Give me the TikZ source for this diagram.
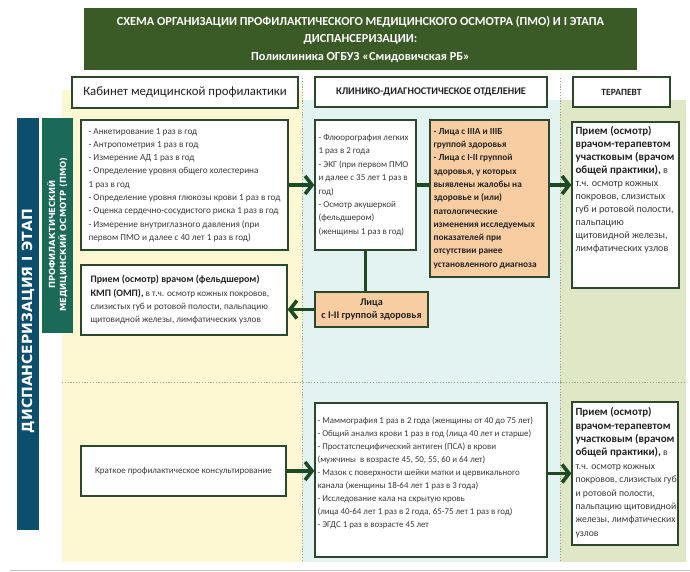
\documentclass[tikz,border=0pt]{standalone}
\usepackage{fontspec}
\setmainfont{Carlito}
\newfontfamily\barfont{DejaVu Sans}
\usetikzlibrary{arrows.meta,calc}
\definecolor{titlegreen}{HTML}{3A5A26}
\definecolor{yellowbg}{HTML}{FEF8D2}
\definecolor{bluebg}{HTML}{E3F3F1}
\definecolor{olivebg}{HTML}{E0E7C6}
\definecolor{barblue}{HTML}{0D4E6C}
\definecolor{barteal}{HTML}{1B6A58}
\definecolor{boxc}{HTML}{2C472C}
\definecolor{orangec}{HTML}{F9CDA2}
\definecolor{arrowc}{HTML}{1C4A22}
\definecolor{dotc}{HTML}{9AAB8C}
\definecolor{textc}{HTML}{3A3A3A}
\definecolor{boldc}{HTML}{222222}
\newcommand{\bx}[2][10]{{\fontsize{#1}{13.3}\selectfont\bfseries\color{boldc}#2}}
\begin{document}
\begin{tikzpicture}[x=1pt,y=-1pt,
  box/.style={draw=boxc, line width=1.3pt, fill=white, inner sep=0pt},
  obox/.style={box, fill=orangec},
  txt/.style={inner sep=0pt, align=left, text=textc, font=\fontsize{9.2}{13.3}\selectfont},
  btxt/.style={inner sep=0pt, align=left, text=boldc, font=\fontsize{9.3}{13.3}\selectfont\bfseries},
  hdr/.style={draw=boxc, line width=1.3pt, fill=white, inner sep=0pt, align=center, text=boldc},
  arr/.style={draw=arrowc, line width=3.6pt, -{Straight Barb[length=7pt,width=18pt]}},
  conn/.style={draw=arrowc, line width=3.6pt},
  dotl/.style={draw=dotc, line width=0.8pt, dash pattern=on 1.2pt off 1.6pt},
  bartxt/.style={text=white, align=center, rotate=90}
]
\useasboundingbox (0,0) rectangle (690,572);
% backgrounds
\fill[yellowbg] (62,90) rectangle (302,562);
\fill[bluebg] (302,100) rectangle (560,562);
\fill[olivebg] (560,100) rectangle (686,562);
\draw[dotl] (302,78) -- (302,562);
\draw[dotl] (560,78) -- (560,562);
\draw[dotl] (62,382) -- (686,382);
\draw[gray!45, line width=1pt] (10,570) -- (690,570);
% title
\node[fill=titlegreen, minimum width=553pt, minimum height=62pt, inner sep=0pt, align=center,
  text=white, font=\fontsize{12.3}{17.5}\selectfont\bfseries] (title) at (360.5,39)
  {СХЕМА ОРГАНИЗАЦИИ ПРОФИЛАКТИЧЕСКОГО МЕДИЦИНСКОГО ОСМОТРА (ПМО) И I ЭТАПА\\
   ДИСПАНСЕРИЗАЦИИ:\\ Поликлиника ОГБУЗ «Смидовичская РБ»};
% side bars
\node[fill=barblue, minimum width=22pt, minimum height=412pt, inner sep=0pt] (bar1) at (28,324) {};
\node[bartxt, font=\barfont\bfseries\fontsize{14}{16}\selectfont] (bar1t) at ([yshift=3pt]bar1.center) {ДИСПАНСЕРИЗАЦИЯ I ЭТАП};
\node[fill=barteal, minimum width=31pt, minimum height=215pt, inner sep=0pt] (bar2) at (57.5,225.5) {};
\node[bartxt, font=\barfont\bfseries\fontsize{8.4}{11}\selectfont] (bar2t) at ([yshift=-9pt]bar2.center)
  {ПРОФИЛАКТИЧЕСКИЙ\\ МЕДИЦИНСКИЙ ОСМОТР (ПМО)};
% headers
\node[hdr, minimum width=226pt, minimum height=31pt, font=\fontsize{12.8}{14}\selectfont] (h1) at (185,92.5)
  {Кабинет медицинской профилактики};
\node[hdr, minimum width=232pt, minimum height=30pt, font=\fontsize{10.2}{12}\selectfont\bfseries] (h2) at (431,92)
  {КЛИНИКО-ДИАГНОСТИЧЕСКОЕ ОТДЕЛЕНИЕ};
\node[hdr, minimum width=97pt, minimum height=30pt, font=\fontsize{9.5}{12}\selectfont\bfseries] (h3) at (621.5,92)
  {ТЕРАПЕВТ};
% upper row
\node[box, minimum width=207pt, minimum height=130pt] (lt) at (184.5,185) {};
\node[txt, anchor=west] (ltt) at ([xshift=8pt]lt.west) {%
- Анкетирование 1 раз в год\\
- Антропометрия 1 раз в год\\
- Измерение АД 1 раз в год\\
- Определение уровня общего холестерина\\
1 раз в год\\
- Определение уровня глюкозы крови 1 раз в год\\
- Оценка сердечно-сосудистого риска 1 раз в год\\
- Измерение внутриглазного давления (при\\
первом ПМО и далее с 40 лет 1 раз в год)};
\node[box, minimum width=101pt, minimum height=130pt] (mt) at (365.5,185) {};
\node[txt, anchor=west, font=\fontsize{9}{13.4}\selectfont] (mtt) at ([xshift=4pt]mt.west) {%
- Флюорография легких\\
1 раз в 2 года\\
- ЭКГ (при первом ПМО\\
и далее с 35 лет 1 раз в\\
год)\\
- Осмотр акушеркой\\
(фельдшером)\\
(женщины 1 раз в год)};
\node[obox, minimum width=119pt, minimum height=157pt] (ob) at (489.5,198.5) {};
\node[btxt, anchor=west] (obt) at ([xshift=4pt]ob.west) {%
- Лица с IIIА и IIIБ\\
группой здоровья\\
- Лица с I-II группой\\
здоровья, у которых\\
выявлены жалобы на\\
здоровье и (или)\\
патологические\\
изменения исследуемых\\
показателей при\\
отсутствии ранее\\
установленного диагноза};
\node[box, minimum width=107pt, minimum height=166pt] (rt) at (625.5,205) {};
\node[txt, anchor=north west, font=\fontsize{10.1}{13}\selectfont] (rtt) at ([shift={(4,5)}]rt.north west) {%
\bx[11]{Прием (осмотр)}\\
\bx[11]{врачом-терапевтом}\\
\bx[11]{участковым (врачом}\\
\bx[11]{общей практики),} в\\
т.ч. осмотр кожных\\
покровов, слизистых\\
губ и ротовой полости,\\
пальпацию\\
щитовидной железы,\\
лимфатических узлов};
\node[box, minimum width=206pt, minimum height=70pt] (lm) at (184,300) {};
\node[txt, anchor=west] (lmt) at ([xshift=10pt]lm.west) {%
\bx[9.9]{Прием (осмотр) врачом (фельдшером)}\\
\bx[9.9]{КМП (ОМП),} в т.ч. осмотр кожных покровов,\\
слизистых губ и ротовой полости, пальпацию\\
щитовидной железы, лимфатических узлов};
\node[obox, minimum width=113pt, minimum height=35pt, align=center, font=\fontsize{10.2}{13}\selectfont\bfseries, text=boldc] (l12) at (371.5,309.5)
  {Лица\\ с I-II группой здоровья};
% lower row
\node[box, minimum width=205pt, minimum height=50pt, align=center, text=textc, font=\fontsize{9}{13}\selectfont] (kb) at (183.5,471)
  {Краткое профилактическое консультирование};
\node[box, minimum width=232pt, minimum height=154pt] (bm) at (431,480) {};
\node[txt, anchor=north west, font=\fontsize{8.9}{13.1}\selectfont] (bmt) at ([shift={(3,14)}]bm.north west) {%
- Маммография 1 раз в 2 года (женщины от 40 до 75 лет)\\
- Общий анализ крови 1 раз в год (лица 40 лет и старше)\\
- Простатспецифический антиген (ПСА) в крови\\
(мужчины~ в возрасте 45, 50, 55, 60 и 64 лет)\\
- Мазок с поверхности шейки матки и цервикального\\
канала (женщины 18-64 лет 1 раз в 3 года)\\
- Исследование кала на скрытую кровь\\
(лица 40-64 лет 1 раз в 2 года, 65-75 лет 1 раз в год)\\
- ЭГДС 1 раз в возрасте 45 лет};
\node[box, minimum width=106pt, minimum height=143pt] (rb) at (625,473.5) {};
\node[txt, anchor=north west, font=\fontsize{9.7}{13.4}\selectfont] (rbt) at ([shift={(4,6)}]rb.north west) {%
\bx[11]{Прием (осмотр)}\\
\bx[11]{врачом-терапевтом}\\
\bx[11]{участковым (врачом}\\
\bx[11]{общей практики),} в\\
т.ч. осмотр кожных\\
покровов, слизистых губ\\
и ротовой полости,\\
пальпацию щитовидной\\
железы, лимфатических\\
узлов};
% connectors
\draw[arr] (lt.east) -- (mt.west);
\draw[conn] (mt.east) -- (mt.east -| ob.west);
\draw[arr] (mt.east -| ob.east) -- (mt.east -| rt.west);
\draw[conn] (mt.south) -- (mt.south |- l12.north);
\draw[arr] (l12.west) -- (l12.west -| lm.east);
\draw[arr] (kb.east) -- (kb.east -| bm.west);
\draw[arr] (rb.west -| bm.east) -- (rb.west);
\end{tikzpicture}
\end{document}
